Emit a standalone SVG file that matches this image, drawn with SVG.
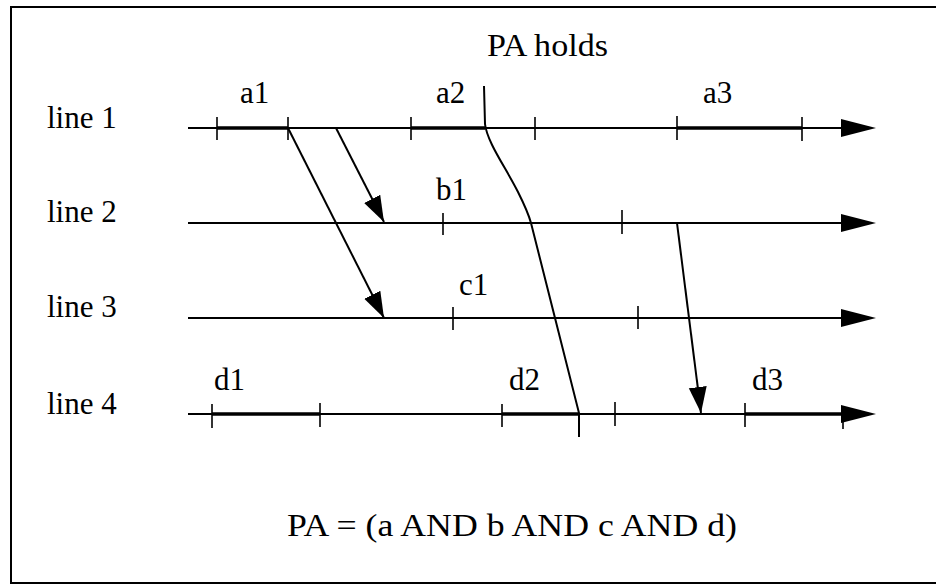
<svg xmlns="http://www.w3.org/2000/svg" width="936" height="585" viewBox="0 0 936 585">
<style>
text{font-family:"Liberation Serif","Times New Roman",serif;font-size:31px;fill:#000}
.tl{stroke:#000;stroke-width:2.2;fill:none}
.thk{stroke:#000;stroke-width:3.4;fill:none}
.tk{stroke:#000;stroke-width:1.6}
.ar{stroke:#000;stroke-width:2;fill:none}
.hd{fill:#000}
.bd{stroke:#000;stroke-width:2;fill:none}
</style>
<defs>
<marker id="ah" markerUnits="userSpaceOnUse" markerWidth="28" markerHeight="20" refX="26" refY="9" orient="auto">
<path d="M0,0 L26,9 L0,18 Z" fill="#000"/>
</marker>
</defs>
<path class="bd" d="M936,7 L11,7 L11,583 L936,583"/>
<g id="line1">
<text x="47" y="128">line 1</text>
<line class="tl" x1="188" y1="128" x2="845" y2="128"/>
<line class="thk" x1="217" y1="128" x2="288" y2="128"/>
<line class="thk" x1="411" y1="128" x2="485" y2="128"/>
<line class="thk" x1="677" y1="128" x2="802" y2="128"/>
<polygon class="hd" points="841,119 876,128 841,137"/>
<g class="tk"><line x1="217" y1="117" x2="217" y2="140"/><line x1="288" y1="117" x2="288" y2="140"/><line x1="411" y1="117" x2="411" y2="140"/><line x1="535" y1="117" x2="535" y2="140"/><line x1="677" y1="116" x2="677" y2="140"/><line x1="802" y1="117" x2="802" y2="141"/></g>
<text x="240" y="103">a1</text>
<text x="436" y="103">a2</text>
<text x="703" y="103">a3</text>
</g>
<g id="line2">
<text x="47" y="222">line 2</text>
<line class="tl" x1="188" y1="223" x2="845" y2="223"/>
<polygon class="hd" points="841,214 876,223 841,232"/>
<g class="tk"><line x1="443" y1="213" x2="443" y2="235"/><line x1="622" y1="210" x2="622" y2="234"/></g>
<text x="436" y="200">b1</text>
</g>
<g id="line3">
<text x="47" y="317">line 3</text>
<line class="tl" x1="188" y1="318" x2="845" y2="318" stroke-width="2.6"/>
<polygon class="hd" points="841,309 876,318 841,327"/>
<g class="tk"><line x1="453" y1="307" x2="453" y2="330"/><line x1="638" y1="306" x2="638" y2="329"/></g>
<text x="459" y="295">c1</text>
</g>
<g id="line4">
<text x="47" y="414">line 4</text>
<line class="tl" x1="188" y1="414" x2="845" y2="414"/>
<line class="thk" x1="212" y1="414" x2="320" y2="414"/>
<line class="thk" x1="502" y1="414" x2="579" y2="414"/>
<line class="thk" x1="745" y1="414" x2="843" y2="414"/>
<polygon class="hd" points="841,405 876,414 841,423"/>
<g class="tk"><line x1="212" y1="404" x2="212" y2="428"/><line x1="320" y1="403" x2="320" y2="427"/><line x1="502" y1="404" x2="502" y2="427"/><line x1="615" y1="402" x2="615" y2="426"/><line x1="745" y1="403" x2="745" y2="427"/><line x1="843" y1="414" x2="843" y2="429"/></g>
<text x="214" y="390">d1</text>
<text x="509" y="390">d2</text>
<text x="752" y="390">d3</text>
</g>
<g id="pa-holds">
<text x="487" y="56" textLength="121" lengthAdjust="spacingAndGlyphs">PA holds</text>
<path class="ar" d="M484,86 L485,124 C487,142 506,168 518,192 C524,204 528,212 531,223 L555,318 L579,413 L579,437"/>
</g>
<g id="connectors">
<line class="ar" x1="336" y1="128" x2="384" y2="222" marker-end="url(#ah)"/>
<line class="ar" x1="288" y1="128" x2="384" y2="318" marker-end="url(#ah)"/>
<line class="ar" x1="677" y1="223" x2="701" y2="413" marker-end="url(#ah)"/>
</g>
<g id="formula">
<text x="287" y="536" textLength="450" lengthAdjust="spacingAndGlyphs">PA = (a AND b AND c AND d)</text>
</g>
</svg>
